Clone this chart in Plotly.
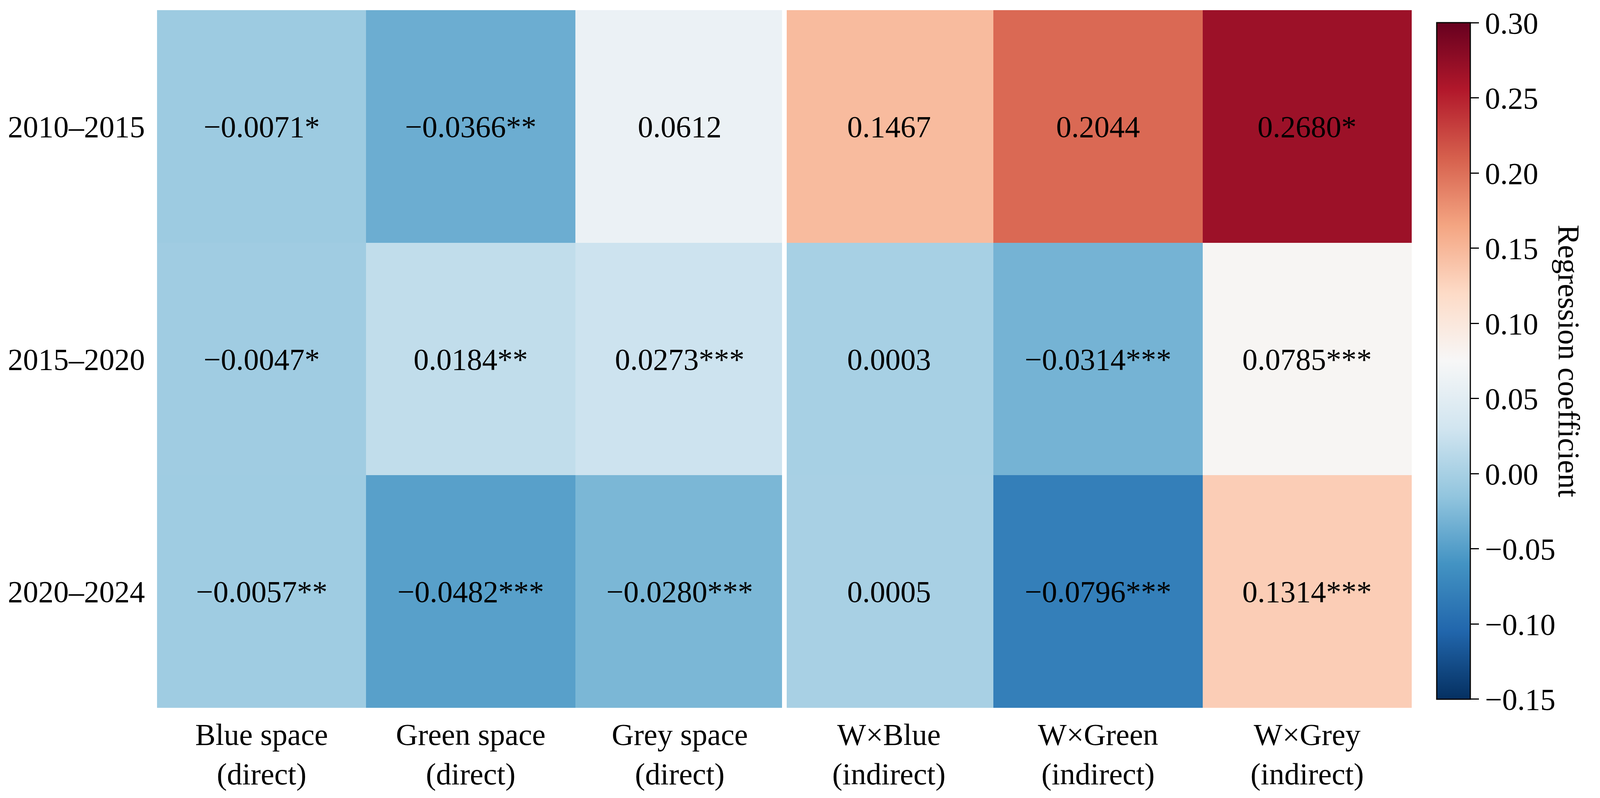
import plotly.graph_objects as go

# Data
periods = ["2010–2015", "2015–2020", "2020–2024"]
variables = [
    "Blue space<br>(direct)", "Green space<br>(direct)", "Grey space<br>(direct)",
    "W×Blue<br>(indirect)", "W×Green<br>(indirect)", "W×Grey<br>(indirect)",
]
coef_2010_2015 = [-0.0071, -0.0366, 0.0612, 0.1467, 0.2044, 0.2680]
coef_2015_2020 = [-0.0047, 0.0184, 0.0273, 0.0003, -0.0314, 0.0785]
coef_2020_2024 = [-0.0057, -0.0482, -0.0280, 0.0005, -0.0796, 0.1314]
stars_2010_2015 = ["*", "**", "", "", "", "*"]
stars_2015_2020 = ["*", "**", "***", "", "***", "***"]
stars_2020_2024 = ["**", "***", "***", "", "***", "***"]
cbar_ticks = [-0.15, -0.10, -0.05, 0.00, 0.05, 0.10, 0.15, 0.20, 0.25, 0.30]

z = [coef_2010_2015, coef_2015_2020, coef_2020_2024]
stars = [stars_2010_2015, stars_2015_2020, stars_2020_2024]


def fmt(v, nd=4):
    s = f"{abs(v):.{nd}f}"
    return ("\u2212" + s) if v < 0 else s


cell_text = [[fmt(v) + s for v, s in zip(row, srow)] for row, srow in zip(z, stars)]

# matplotlib RdBu_r (ColorBrewer)
rdbu_r = ['#053061', '#2166ac', '#4393c3', '#92c5de', '#d1e5f0', '#f7f7f7',
          '#fddbc7', '#f4a582', '#d6604d', '#b2182b', '#67001f']
colorscale = [[i / (len(rdbu_r) - 1), c] for i, c in enumerate(rdbu_r)]

FONT = "Liberation Serif"
FS = 78
W, H = 4060, 2030
ml, mr, mt, mb = 394, 454, 18, 219
plot_w = W - ml - mr
plot_h = H - mt - mb
cb_top, cb_bot = 50, 1789          # colorbar edges, px from top of figure
plot_bot = H - mb

fig = go.Figure(go.Heatmap(
    z=z,
    x=list(range(len(variables))),
    y=list(range(len(periods))),
    text=cell_text,
    texttemplate="%{text}",
    textfont=dict(family=FONT, size=FS, color="black"),
    colorscale=colorscale,
    # small padding so the end ticks (-0.15 and 0.30) are kept
    zmin=-0.15 - 1e-4, zmax=0.30 + 1e-4,
    colorbar=dict(
        x=(3670 - ml) / plot_w, xanchor="left", xpad=0, ypad=0,
        y=(plot_bot - cb_bot) / plot_h, yanchor="bottom",
        len=(cb_bot - cb_top) / plot_h,
        thickness=86,
        outlinewidth=3, outlinecolor="black",
        tickvals=cbar_ticks,
        ticktext=[fmt(t, 2) for t in cbar_ticks],
        ticks="outside", ticklen=21, tickwidth=3, tickcolor="black",
        ticklabeloverflow="allow",
        tickfont=dict(family=FONT, size=FS, color="black"),
    ),
    hovertemplate="%{text}<extra></extra>",
))

# white separator between direct and indirect effects
fig.add_shape(type="line", xref="x", yref="paper", x0=2.5, x1=2.5, y0=0, y1=1,
              line=dict(color="white", width=12))

fig.add_annotation(
    text="Regression coefficient", xref="paper", yref="paper",
    x=(4009 - ml) / plot_w, y=(plot_bot - (cb_top + cb_bot) / 2) / plot_h,
    xanchor="center", yanchor="middle",
    textangle=90, showarrow=False,
    font=dict(family=FONT, size=FS, color="black"),
)

fig.update_xaxes(
    tickvals=list(range(len(variables))), ticktext=variables,
    showgrid=False, zeroline=False, ticks="", ticklabelstandoff=16,
    tickfont=dict(family=FONT, size=FS, color="black"),
)
fig.update_yaxes(
    tickvals=list(range(len(periods))), ticktext=periods,
    autorange="reversed", showgrid=False, zeroline=False, ticks="",
    ticklabelstandoff=30,
    tickfont=dict(family=FONT, size=FS, color="black"),
)

fig.update_layout(
    width=W, height=H,
    margin=dict(l=ml, r=mr, t=mt, b=mb),
    paper_bgcolor="white", plot_bgcolor="white",
    font=dict(family=FONT, size=FS, color="black"),
)

fig.write_html("out.html")
